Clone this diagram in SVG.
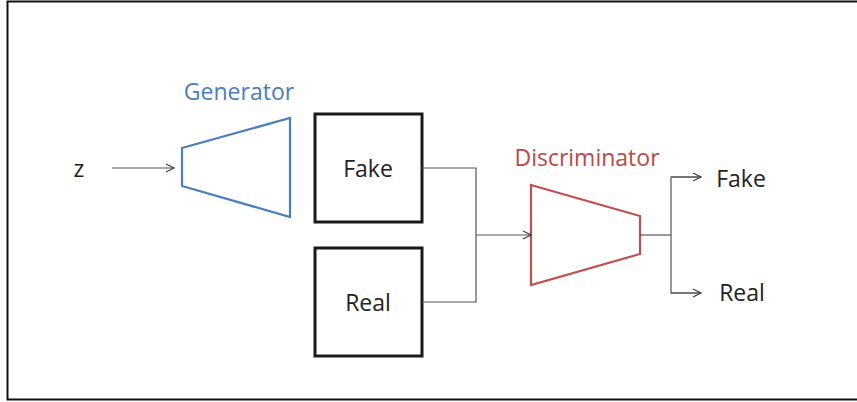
<svg xmlns="http://www.w3.org/2000/svg" width="857" height="402" viewBox="0 0 857 402">
  <style>
    .lbl { font-family: "Open Sans", "Noto Sans", sans-serif; font-size: 23px; fill: #222; text-anchor: middle; }
    .box { fill: #fff; stroke: #1a1a1a; stroke-width: 3; }
    .wire { fill: none; stroke: #555; stroke-width: 1.2; }
  </style>
  <defs>
    <marker id="arrow" viewBox="0 0 10 10" refX="9" refY="5" markerWidth="10" markerHeight="10" markerUnits="userSpaceOnUse" orient="auto">
      <path d="M1,1 L9,5 L1,9" fill="none" stroke="#444" stroke-width="1.2"/>
    </marker>
  </defs>
  <rect width="857" height="402" fill="#fff"/>
  <!-- frame: left, top and bottom edges -->
  <path d="M857,1.5 H7.5 V399.5 H857" fill="none" stroke="#111" stroke-width="2"/>

  <g id="z">
    <text class="lbl" x="79" y="177">z</text>
  </g>
  <g id="generator">
    <text class="lbl" x="239" y="100" style="fill:#4a7ebf">Generator</text>
    <polygon points="182,148 290,118 290,217 182,186" fill="#fff" stroke="#4a7ebf" stroke-width="2.2"/>
  </g>
  <g id="fake-sample">
    <rect class="box" x="315" y="114" width="107" height="108"/>
    <text class="lbl" x="368" y="177">Fake</text>
  </g>
  <g id="real-sample">
    <rect class="box" x="315" y="248" width="107" height="108"/>
    <text class="lbl" x="368" y="311">Real</text>
  </g>
  <g id="discriminator">
    <text class="lbl" x="587" y="166" style="fill:#b94a48">Discriminator</text>
    <polygon points="531,185 640,216 640,254 531,285" fill="#fff" stroke="#c0504d" stroke-width="2.2"/>
  </g>
  <g id="out-fake">
    <text class="lbl" x="741" y="187">Fake</text>
  </g>
  <g id="out-real">
    <text class="lbl" x="742" y="301">Real</text>
  </g>

  <g id="connectors">
    <line class="wire" x1="112" y1="168" x2="174" y2="168" marker-end="url(#arrow)"/>
    <polyline class="wire" points="422,168 476,168 476,302 422,302"/>
    <line class="wire" x1="476" y1="235" x2="531" y2="235" marker-end="url(#arrow)"/>
    <line class="wire" x1="640" y1="235" x2="671" y2="235"/>
    <polyline class="wire" points="700,177 671,177 671,293 700,293"/>
    <line class="wire" x1="671" y1="177" x2="701" y2="177" marker-end="url(#arrow)"/>
    <line class="wire" x1="671" y1="293" x2="701" y2="293" marker-end="url(#arrow)"/>
  </g>
</svg>
